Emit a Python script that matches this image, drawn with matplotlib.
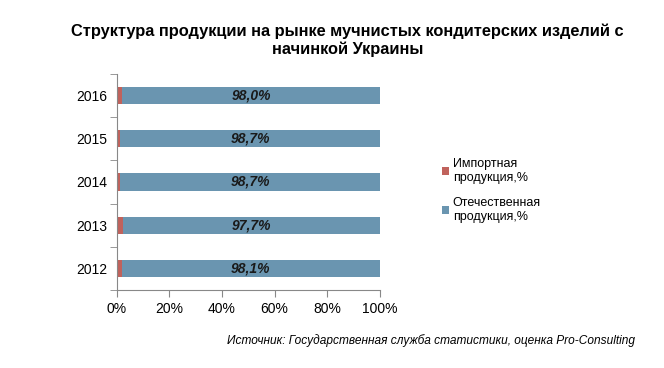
import numpy as np
import matplotlib.pyplot as plt
from matplotlib.ticker import FixedLocator, PercentFormatter

plt.rcParams['font.family'] = ['Liberation Sans', 'DejaVu Sans']

years = ['2012', '2013', '2014', '2015', '2016']
domestic = [98.1, 97.7, 98.7, 98.7, 98.0]
imported = [1.9, 2.3, 1.3, 1.3, 2.0]
labels = ['98,1%', '97,7%', '98,7%', '98,7%', '98,0%']

c_imp = '#C0625C'
c_dom = '#6A95B0'

fig = plt.figure(figsize=(6.64, 3.68), dpi=100)
ax = fig.add_axes([0.176, 0.212, 0.396, 0.587])

y = np.arange(len(years))
ax.barh(y, imported, height=0.4, color=c_imp, label='Импортная\nпродукция,%')
ax.barh(y, domestic, left=imported, height=0.4, color=c_dom,
        label='Отечественная\nпродукция,%')

for yi, imp, dom, lab in zip(y, imported, domestic, labels):
    ax.text(imp + dom / 2, yi, lab, ha='center', va='center',
            fontsize=10, fontweight='bold', fontstyle='italic', color='#1a1a1a')

ax.set_xlim(0, 100)
ax.set_ylim(-0.5, len(years) - 0.5)
ax.set_xticks(np.arange(0, 101, 20))
ax.xaxis.set_major_formatter(PercentFormatter(decimals=0))
ax.set_yticks(y)
ax.set_yticklabels(years)
ax.yaxis.set_minor_locator(FixedLocator(np.arange(-0.5, len(years), 1)))
ax.tick_params(axis='y', which='major', length=0, pad=7, labelsize=10)
ax.tick_params(axis='y', which='minor', length=5, color='#888888')
ax.tick_params(axis='x', length=5, color='#888888', labelsize=10)

for s in ['top', 'right']:
    ax.spines[s].set_visible(False)
for s in ['left', 'bottom']:
    ax.spines[s].set_color('#888888')

fig.text(0.523, 0.89, 'Структура продукции на рынке мучнистых кондитерских изделий с\nначинкой Украины',
         ha='center', va='center', fontsize=11.8, fontweight='bold', linespacing=1.2)

fig.legend(loc='upper left', bbox_to_anchor=(0.648, 0.6), frameon=False,
           fontsize=9, handlelength=0.6, handleheight=0.6, handletextpad=0.3,
           labelspacing=1.0)

fig.text(0.957, 0.075, 'Источник: Государственная служба статистики, оценка Pro-Consulting',
         ha='right', va='center', fontsize=8.6, fontstyle='italic')

fig.savefig('out.png', dpi=100)
